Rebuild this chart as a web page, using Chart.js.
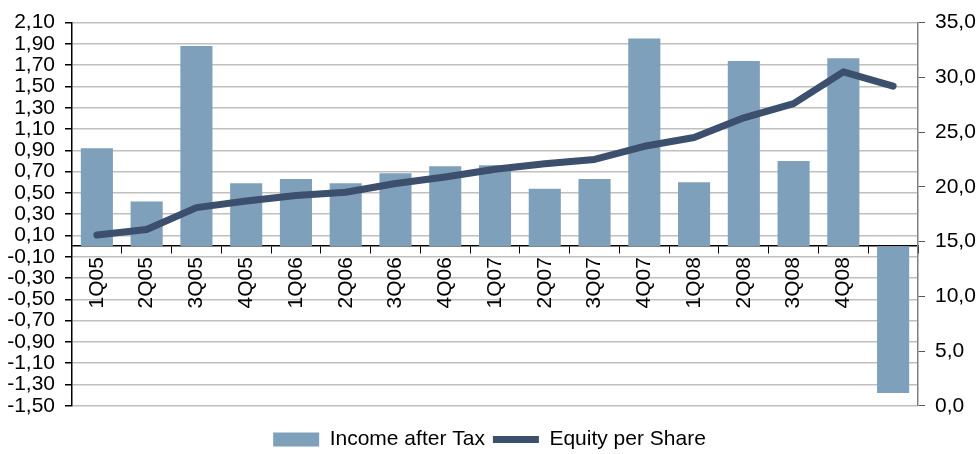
<!DOCTYPE html>
<html>
<head>
<meta charset="utf-8">
<script src="https://cdn.jsdelivr.net/npm/chart.js@4/dist/chart.umd.min.js"></script>
<style>
  body { margin: 0; background: #fff; }
  #wrap { width: 979px; height: 454px; }
</style>
</head>
<body>
<div id="wrap"><canvas id="myChart"></canvas></div>
<script>
const quarters = ['1Q05','2Q05','3Q05','4Q05','1Q06','2Q06','3Q06','4Q06','1Q07','2Q07','3Q07','4Q07','1Q08','2Q08','3Q08','4Q08','1Q09'];
const incomeAfterTax = [0.92, 0.42, 1.88, 0.59, 0.63, 0.59, 0.685, 0.75, 0.76, 0.54, 0.63, 1.95, 0.60, 1.74, 0.80, 1.765, -1.38];
const equityPerShare = [15.6, 16.1, 18.1, 18.7, 19.2, 19.5, 20.3, 20.9, 21.6, 22.1, 22.5, 23.7, 24.5, 26.3, 27.6, 30.5, 29.2];

const font = { family: "'Liberation Sans', Arial, sans-serif", size: 21 };
Chart.defaults.color = '#000';

const ctx = document.getElementById('myChart');
new Chart(ctx, {
  type: 'bar',
  data: {
    labels: quarters,
    datasets: [
      {
        label: 'Income after Tax',
        data: incomeAfterTax,
        backgroundColor: '#7fa0ba',
        borderWidth: 0,
        yAxisID: 'y',
        order: 1,
        pointStyle: 'rect',
        barPercentage: 0.645,
        categoryPercentage: 1
      },
      {
        type: 'line',
        label: 'Equity per Share',
        data: equityPerShare,
        borderColor: '#3c4f6d',
        backgroundColor: '#3c4f6d',
        borderWidth: 7,
        borderCapStyle: 'round',
        borderJoinStyle: 'round',
        pointRadius: 0,
        pointStyle: 'line',
        tension: 0,
        yAxisID: 'y1',
        order: 0
      }
    ]
  },
  options: {
    responsive: true,
    maintainAspectRatio: false,
    animation: false,
    layout: { padding: { top: 15, bottom: -6, left: 0, right: 0 } },
    scales: {
      x: {
        position: { y: 0 },
        z: 1,
        border: { color: '#000', width: 1.5 },
        grid: { offset: true, drawOnChartArea: false, tickLength: 7, tickColor: '#000' },
        ticks: { font: font, minRotation: 90, maxRotation: 90, autoSkip: false, padding: 4 }
      },
      y: {
        position: 'left',
        min: -1.5,
        max: 2.1,
        afterFit: (s) => { s.width = 72; },
        border: { color: '#000', width: 1.5 },
        grid: { color: '#bfbfbf', lineWidth: 1.5, tickLength: 7, tickColor: '#000' },
        ticks: {
          stepSize: 0.2,
          autoSkip: false,
          font: font,
          padding: 10,
          callback: (v) => v.toFixed(2).replace('.', ',')
        }
      },
      y1: {
        position: 'right',
        min: 0,
        max: 35,
        afterFit: (s) => { s.width = 61; },
        border: { color: '#808080', width: 1.5 },
        grid: { drawOnChartArea: false, tickLength: 7, tickColor: '#555' },
        ticks: {
          stepSize: 5,
          autoSkip: false,
          font: font,
          padding: 10,
          callback: (v) => v.toFixed(1).replace('.', ',')
        }
      }
    },
    plugins: {
      tooltip: { enabled: false },
      legend: {
        position: 'bottom',
        title: { display: true, text: '', font: { size: 1 }, padding: { top: 7, bottom: 7 } },
        labels: {
          font: font,
          usePointStyle: true,
          pointStyleWidth: 46,
          boxHeight: 14,
          padding: 8,
          sort: (a, b) => a.datasetIndex - b.datasetIndex
        }
      }
    }
  }
});
</script>
</body>
</html>
